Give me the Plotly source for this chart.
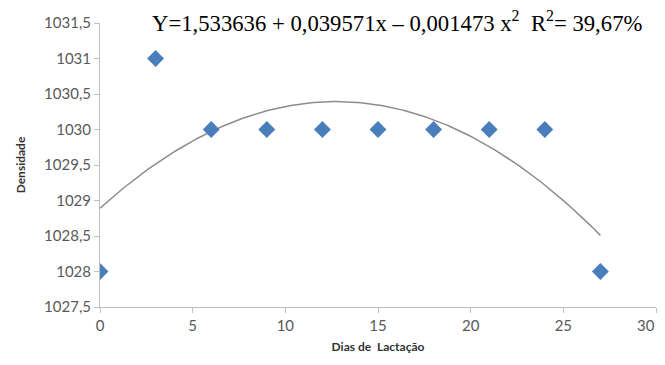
import numpy as np
import plotly.graph_objects as go

dias = [0, 3, 6, 9, 12, 15, 18, 21, 24, 27]
densidade = [1028, 1031, 1030, 1030, 1030, 1030, 1030, 1030, 1030, 1028]
y_ticks = [1027.5, 1028, 1028.5, 1029, 1029.5, 1030, 1030.5, 1031, 1031.5]
y_tick_labels = ["1027,5", "1028", "1028,5", "1029", "1029,5", "1030", "1030,5", "1031", "1031,5"]
x_ticks = [0, 5, 10, 15, 20, 25, 30]
x_tick_labels = ["0", "5", "10", "15", "20", "25", ""]
last_x_label = "30"

coef = np.polyfit(dias, densidade, 2)
xs = np.linspace(min(dias), max(dias), 200)
ys = np.polyval(coef, xs)

fig = go.Figure()
fig.add_trace(go.Scatter(x=xs, y=ys, mode="lines",
                         line=dict(color="#8c8c8c", width=1.5), hoverinfo="skip"))
fig.add_trace(go.Scatter(x=dias, y=densidade, mode="markers",
                         marker=dict(symbol="diamond", size=13, color="#4a7ebb")))

tick_font = dict(family="Lato, Open Sans, sans-serif", size=15, color="#595959")
title_font = dict(family="Lato, Open Sans, sans-serif", size=12, color="#333333")

# figure sized to fit inside the page's 8px body margin
W, H = 649, 349
L, R, T, B = 92, 1, 15, 50
fig.update_layout(
    width=W, height=H,
    margin=dict(l=L, r=R, t=T, b=B),
    paper_bgcolor="white", plot_bgcolor="white",
    showlegend=False,
    xaxis=dict(range=[0, 30], tickvals=x_ticks, ticktext=x_tick_labels,
               showgrid=False, zeroline=False,
               showline=True, linecolor="#bfbfbf", linewidth=1,
               ticks="outside", ticklen=5, tickcolor="#bfbfbf",
               tickfont=tick_font,
               title=dict(text="<b>Dias de  Lactação</b>", font=title_font, standoff=9)),
    yaxis=dict(range=[1027.5, 1031.5], tickvals=y_ticks, ticktext=y_tick_labels,
               showgrid=False, zeroline=False,
               showline=True, linecolor="#bfbfbf", linewidth=1,
               ticks="outside", ticklen=5, tickcolor="#bfbfbf",
               tickfont=tick_font,
               title=dict(text="<b>Densidade</b>", font=title_font, standoff=15)),
)
plot_w = W - L - R
plot_h = H - T - B
fig.add_annotation(
    x=30, y=0, xref="x", yref="paper", yanchor="top", xanchor="right",
    yshift=-7, xshift=1, showarrow=False, text=last_x_label, font=tick_font)
# equation: left edge at page x 150, middle at page y 21 (8px body offset)
fig.add_annotation(
    x=(150 - 8 - L) / plot_w, y=(T + plot_h - (21 - 8)) / plot_h,
    xref="paper", yref="paper", showarrow=False,
    text="Y=1,533636 + 0,039571x – 0,001473 x<sup>2</sup>  R<sup>2</sup>= 39,67%",
    font=dict(family="Liberation Serif, Times New Roman, serif", size=22.7, color="black"),
    xanchor="left", yanchor="middle")

fig.write_html("out.html")
